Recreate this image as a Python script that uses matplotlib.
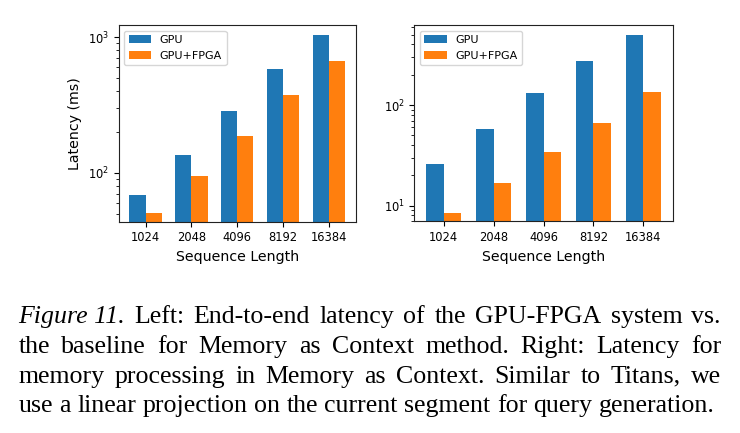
import numpy as np
import matplotlib
matplotlib.use("Agg")
import matplotlib.pyplot as plt

seq_len = ["1024", "2048", "4096", "8192", "16384"]
# left panel: end-to-end latency (ms)
e2e_gpu = [68.5, 136, 286, 582, 1040]
e2e_fpga = [50.7, 95, 186, 374, 673]
# right panel: memory processing latency
mem_gpu = [25.9, 57.8, 130.7, 271.6, 495]
mem_fpga = [8.47, 16.9, 33.9, 66.7, 133.7]

caption_lines = [
    "Left: End-to-end latency of the GPU-FPGA system vs.",
    "the baseline for Memory as Context method. Right: Latency for",
    "memory processing in Memory as Context. Similar to Titans, we",
    "use a linear projection on the current segment for query generation.",
]

blue = "#1f77b4"
orange = "#ff7f0e"
W, H = 740, 433
fig = plt.figure(figsize=(W / 100, H / 100), dpi=100)

ax1 = fig.add_axes([118.7 / W, 1 - 221.7 / H, (356 - 118.7) / W, (221.7 - 25) / H])
ax2 = fig.add_axes([414.3 / W, 1 - 221.3 / H, (672.7 - 414.3) / W, (221.3 - 25) / H])

x = np.arange(len(seq_len))
w = 0.35
for ax, g, f in [(ax1, e2e_gpu, e2e_fpga), (ax2, mem_gpu, mem_fpga)]:
    ax.bar(x - w / 2, g, w, color=blue, label="GPU", log=True)
    ax.bar(x + w / 2, f, w, color=orange, label="GPU+FPGA", log=True)
    ax.set_xticks(x)
    ax.set_xticklabels(seq_len, fontsize=8.3)
    ax.tick_params(axis="y", labelsize=8.3)
    ax.set_xlabel("Sequence Length", fontsize=10.2)
    ax.set_xlim(-0.585, 4.585)
    ax.legend(loc="upper left", fontsize=8.0, handlelength=2.0)
    for s in ax.spines.values():
        s.set_color("#222222")

ax1.set_ylim(43.7, 1232)
ax2.set_ylim(7.0, 623)
ax1.set_ylabel("Latency (ms)", fontsize=10.2)

# caption, justified like the paper
fs = 18.6
serif = "Liberation Serif"
x_left, x_right = 18.3, 721.0
baselines = [323.3, 353.3, 382.7, 411.7]
renderer = fig.canvas.get_renderer()


def width_of(t):
    return t.get_window_extent(renderer).width


for i, line in enumerate(caption_lines):
    y = 1 - baselines[i] / H
    words = line.split(" ")
    items = []
    if i == 0:
        items.append(("Figure 11.", "italic"))
    items += [(wd, "normal") for wd in words]
    texts = [fig.text(0, y, wd, fontsize=fs, family=serif, style=st,
                      va="baseline", ha="left") for wd, st in items]
    widths = [width_of(t) for t in texts]
    space = fs * 100 / 72 * 0.25
    if i < len(caption_lines) - 1:
        gap = (x_right - x_left - sum(widths)) / (len(texts) - 1)
    else:
        gap = space
    cx = x_left
    for t, wd in zip(texts, widths):
        t.set_x(cx / W)
        cx += wd + gap

fig.savefig("out.png", dpi=100)
